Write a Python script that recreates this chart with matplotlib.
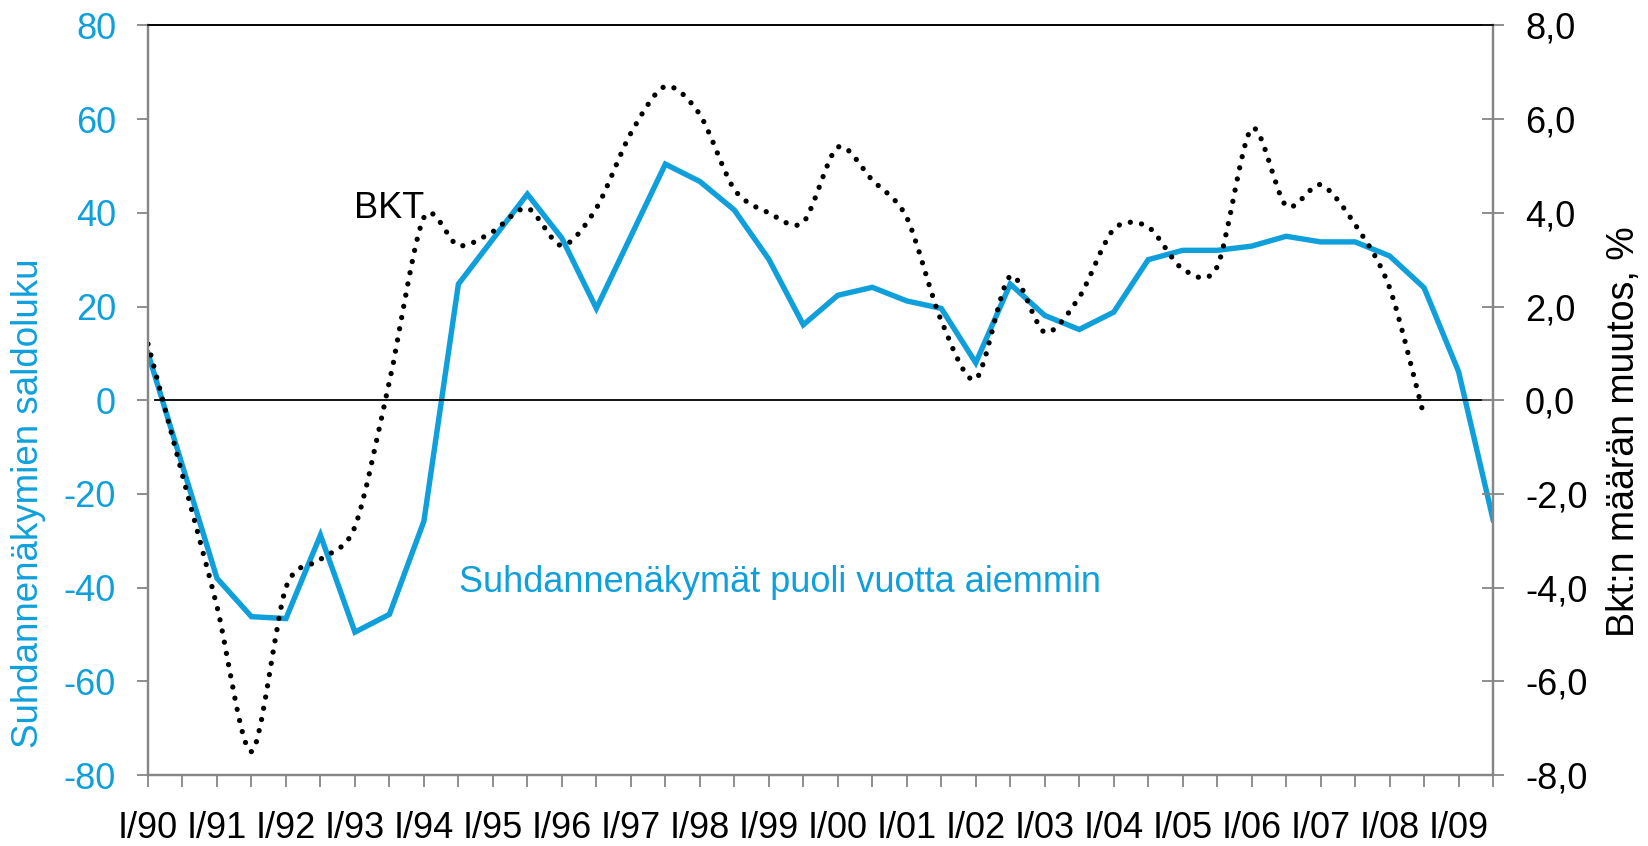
import matplotlib
matplotlib.use('Agg')
import matplotlib.pyplot as plt
from matplotlib.path import Path
from matplotlib.patches import PathPatch

plt.rcParams['font.family'] = ['Liberation Sans', 'DejaVu Sans']

BLUE = '#0fa0dc'
GREY = '#868686'

years = ['90', '91', '92', '93', '94', '95', '96', '97', '98', '99',
         '00', '01', '02', '03', '04', '05', '06', '07', '08', '09']
periods = []
for yy in years:
    periods += ['I/' + yy, 'II/' + yy]

# suhdannenakymat puoli vuotta aiemmin, saldoluku (half-year)
outlook = [10, -14, -38, -46.2, -46.6, -28.8, -49.5, -45.7, -25.8, 24.8,
           34.4, 44, 34.6, 19.6, 35, 50.4, 46.7, 40.6, 30.1, 16.1,
           22.4, 24.1, 21.2, 19.6, 8.0, 24.8, 18.1, 15.1, 18.8, 30,
           32, 32, 32.9, 35, 33.8, 33.8, 30.8, 24, 6.1, -25.5]

# BKT:n maaran muutos, % (half-year)
gdp = [1.2, -1.6, -4.4, -7.5, -4.0, -3.4, -2.7, 0.4, 3.9, 3.3,
       3.6, 4.1, 3.3, 4.1, 5.7, 6.7, 6.1, 4.5, 4.0, 3.8,
       5.4, 4.7, 3.9, 1.7, 0.45, 2.65, 1.45, 2.2, 3.65, 3.7,
       2.8, 2.85, 5.8, 4.15, 4.6, 3.75, 2.4, -0.35]

left_ticks = [-80, -60, -40, -20, 0, 20, 40, 60, 80]
right_ticks = [-8, -6, -4, -2, 0, 2, 4, 6, 8]


def smooth_path(xs, ys, k=7.0):
    """Bezier path through the points, like a smoothed Excel line."""
    n = len(xs)
    verts = [(xs[0], ys[0])]
    codes = [Path.MOVETO]
    for i in range(n - 1):
        i0 = max(i - 1, 0)
        i3 = min(i + 2, n - 1)
        c1 = (xs[i] + (xs[i + 1] - xs[i0]) / k,
              ys[i] + (ys[i + 1] - ys[i0]) / k)
        c2 = (xs[i + 1] - (xs[i3] - xs[i]) / k,
              ys[i + 1] - (ys[i3] - ys[i]) / k)
        verts += [c1, c2, (xs[i + 1], ys[i + 1])]
        codes += [Path.CURVE4] * 3
    return Path(verts, codes)


fig = plt.figure(figsize=(16.48, 8.46), dpi=100)
ax = fig.add_axes([0.0898, 0.0839, 0.8162, 0.886])
ax2 = ax.twinx()

x = list(range(len(periods)))
ax.plot(x, outlook, color=BLUE, lw=3.9, solid_joinstyle='miter', zorder=3)

ax.set_xlim(0, len(periods) - 1)
ax.set_ylim(left_ticks[0], left_ticks[-1])
ax2.set_ylim(right_ticks[0], right_ticks[-1])

xg = list(range(len(gdp)))
patch = PathPatch(smooth_path(xg, gdp), facecolor='none', edgecolor='black',
                  lw=3.8, linestyle=(0, (0.01, 2.15)), capstyle='round')
ax2.add_patch(patch)

ax2.axhline(0, xmin=0.005, xmax=0.998, color='black', lw=1.3, zorder=1)

ax.set_xticks(x)
ax.set_xticklabels([p if p.startswith('I/') else '' for p in periods])
ax.set_yticks(left_ticks)
ax.set_yticklabels([str(t) for t in left_ticks])
ax2.set_yticks(right_ticks)
ax2.set_yticklabels(['%d,0' % t for t in right_ticks])

ax.tick_params(axis='x', direction='out', length=8.4, width=1.3, color=GREY,
               labelsize=26, pad=17.5)
ax.tick_params(axis='y', direction='out', length=8.0, width=1.3, color=GREY,
               labelsize=26, labelcolor=BLUE, pad=15)
ax2.tick_params(axis='y', direction='inout', length=16, width=1.3, color=GREY,
                labelsize=26, labelcolor='black', pad=15)

for a in (ax, ax2):
    a.spines['left'].set_color(GREY)
    a.spines['left'].set_linewidth(1.6)
    a.spines['right'].set_color(GREY)
    a.spines['right'].set_linewidth(1.6)
    a.spines['bottom'].set_color(GREY)
    a.spines['bottom'].set_linewidth(1.6)
    a.spines['top'].set_color('black')
    a.spines['top'].set_linewidth(1.2)

ax.text(5.97, 38.8, 'BKT', fontsize=26, color='black', ha='left', va='baseline')
ax.text(9.02, -40.9, 'Suhdannenäkymät puoli vuotta aiemmin', fontsize=26,
        color=BLUE, ha='left', va='baseline')

fig.text(0.0172, 0.405, 'Suhdannenäkymien saldoluku', rotation=90,
         fontsize=26.5, color=BLUE, ha='center', va='center')
fig.text(0.9857, 0.49, 'Bkt:n määrän muutos, %', rotation=90,
         fontsize=27, color='black', ha='center', va='center')

plt.savefig('out.png', dpi=100)
